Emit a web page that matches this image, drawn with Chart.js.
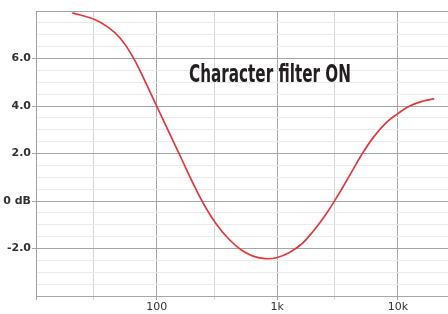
<!DOCTYPE html>
<html>
<head>
<meta charset="utf-8">
<script src="https://cdn.jsdelivr.net/npm/chart.js@4/dist/chart.umd.min.js"></script>
<style>
html,body{margin:0;padding:0;background:#fff;}
#wrap{width:448px;height:314px;position:relative;}
</style>
</head>
<body>
<div id="wrap"><canvas id="c" width="448" height="314"></canvas></div>
<script>
// Data
const freqs = [20, 30, 40, 50, 63, 80, 100, 125, 160, 200, 250, 315, 400, 500, 630, 800, 1000, 1250, 1600, 2000, 2500, 3150, 4000, 5000, 6300, 8000, 10000, 12500, 16000, 20000];
const gainDb = [7.92, 7.66, 7.3, 6.85, 6.1, 5.05, 4.0, 2.95, 1.8, 0.75, -0.2, -1.0, -1.62, -2.05, -2.32, -2.43, -2.38, -2.18, -1.8, -1.25, -0.6, 0.2, 1.1, 1.95, 2.7, 3.3, 3.68, 4.0, 4.2, 4.3];
const xGridValues = [10, 30, 100, 300, 1000, 3000, 10000];
const xMajor = [10, 100, 1000, 10000];
const xTickLabels = {100: '100', 1000: '1k', 10000: '10k'};
const yTickLabels = {6: '6.0', 4: '4.0', 2: '2.0', 0: '0 dB', '-2': '-2.0'};
const titleText = 'Character filter ON';

const points = freqs.map((f, i) => ({x: f, y: gainDb[i]}));

const titlePlugin = {
  id: 'innerTitle',
  afterDraw(chart) {
    const ctx = chart.ctx;
    ctx.save();
    ctx.font = "bold 25px 'Liberation Sans Narrow', 'DejaVu Sans Condensed', 'Liberation Sans', sans-serif";
    const w = ctx.measureText(titleText).width;
    const target = 162;
    ctx.translate(189, 82);
    ctx.scale(target / w, 1);
    ctx.fillStyle = '#231f20';
    ctx.textBaseline = 'alphabetic';
    ctx.fillText(titleText, 0, 0);
    ctx.restore();
  }
};

new Chart(document.getElementById('c'), {
  type: 'scatter',
  data: {
    datasets: [{
      data: points,
      showLine: true,
      borderColor: '#e2393c',
      borderWidth: 1.7,
      pointRadius: 0,
      tension: 0.4,
      fill: false
    }]
  },
  options: {
    responsive: false,
    animation: false,
    layout: {padding: {top: 11, right: 0, left: 0, bottom: 0}},
    plugins: {legend: {display: false}, tooltip: {enabled: false}, title: {display: false}},
    scales: {
      x: {
        type: 'logarithmic',
        min: 10,
        max: 26000,
        afterBuildTicks(scale) {
          scale.ticks = xGridValues.map(v => ({value: v}));
        },
        afterFit(scale) { scale.height = 18; },
        ticks: {
          autoSkip: false,
          maxRotation: 0,
          minRotation: 0,
          padding: 1,
          color: '#333',
          font: {family: "'DejaVu Sans', sans-serif", size: 11},
          callback: (v) => xTickLabels[v] || ''
        },
        grid: {
          color: (c) => xMajor.includes(c.tick && c.tick.value) ? '#a6a6a6' : '#d6d6d6',
          tickColor: (c) => xMajor.includes(c.tick && c.tick.value) ? '#a6a6a6' : '#d6d6d6',
          tickLength: 4,
          lineWidth: 1
        },
        border: {display: true, color: '#a8a8a8', width: 1}
      },
      y: {
        type: 'linear',
        min: -4,
        max: 8,
        afterFit(scale) { scale.width = 36; },
        ticks: {
          stepSize: 0.5,
          autoSkip: false,
          padding: 1,
          color: '#333',
          font: {family: "'DejaVu Sans', sans-serif", size: 11, weight: 'bold'},
          callback: (v) => (yTickLabels[v] !== undefined ? yTickLabels[v] : '')
        },
        grid: {
          color: (c) => (c.tick && c.tick.value % 2 === 0) ? '#a6a6a6' : '#ebebeb',
          tickColor: (c) => (c.tick && c.tick.value % 2 === 0 && c.tick.value > -4 && c.tick.value < 8) ? '#a6a6a6' : 'rgba(0,0,0,0)',
          tickLength: 4,
          lineWidth: 1
        },
        border: {display: true, color: '#a0a0a0', width: 1}
      }
    }
  },
  plugins: [titlePlugin]
});
</script>
</body>
</html>
